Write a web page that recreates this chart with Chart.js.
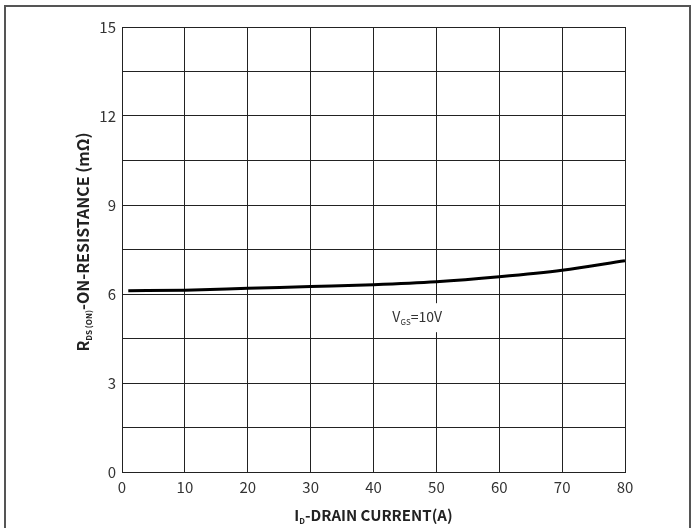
<!DOCTYPE html>
<html>
<head>
<meta charset="utf-8">
<script src="https://cdn.jsdelivr.net/npm/chart.js@4.4.0/dist/chart.umd.min.js"></script>
<style>
  html, body { margin: 0; padding: 0; background: #fff; }
  #wrap { width: 691px; height: 528px; position: relative; }
</style>
</head>
<body>
<div id="wrap"><canvas id="rdsChart" width="691" height="528"></canvas></div>
<script>
// 곡선 데이터
const drainCurrent = [1, 10, 20, 30, 40, 50, 60, 70, 80];
const onResistance = [6.11, 6.13, 6.19, 6.25, 6.31, 6.41, 6.58, 6.80, 7.12];

// 눈금 라벨
const xTickLabels = [0, 10, 20, 30, 40, 50, 60, 70, 80];
const yTickLabels = [0, 3, 6, 9, 12, 15];
const yGridStep = 1.5;

const FONT = '"Noto Sans CJK SC", "Noto Sans", sans-serif';

// 아래첨자 텍스트 그리기
function drawParts(ctx, parts, x, y, align) {
    let total = 0;
    parts.forEach(p => {
        ctx.font = p.font;
        total += ctx.measureText(p.text).width;
    });
    let cx = align === 'center' ? x - total / 2 : x;
    parts.forEach(p => {
        ctx.font = p.font;
        ctx.fillText(p.text, cx, y + (p.dy || 0));
        cx += ctx.measureText(p.text).width;
    });
}

const annotations = {
    id: 'annotations',
    beforeDraw(chart) {
        const ctx = chart.ctx;
        ctx.save();
        ctx.fillStyle = '#fff';
        ctx.fillRect(0, 0, chart.width, chart.height);
        // 바깥 테두리
        ctx.strokeStyle = '#555';
        ctx.lineWidth = 2;
        ctx.beginPath();
        ctx.moveTo(5, 540);
        ctx.lineTo(5, 6);
        ctx.lineTo(690, 6);
        ctx.lineTo(690, 540);
        ctx.stroke();
        ctx.restore();
    },
    afterDatasetsDraw(chart) {
        const ctx = chart.ctx;
        const area = chart.chartArea;
        const xs = chart.scales.x;
        const ys = chart.scales.y;
        ctx.save();
        ctx.fillStyle = '#222';
        ctx.textBaseline = 'alphabetic';
        const bold = 'bold 15px ' + FONT;
        const subBold = 'bold 8px ' + FONT;

        // x축 제목
        drawParts(ctx, [
            { text: 'I', font: bold },
            { text: 'D', font: subBold, dy: 3 },
            { text: '-DRAIN CURRENT(A)', font: bold }
        ], (area.left + area.right) / 2, 521, 'center');

        // y축 제목 (회전)
        const boldY = 'bold 16px ' + FONT;
        ctx.translate(89, 242);
        ctx.rotate(-Math.PI / 2);
        drawParts(ctx, [
            { text: 'R', font: boldY },
            { text: 'DS (ON)', font: subBold, dy: 3 },
            { text: '-ON-RESISTANCE (mΩ)', font: boldY }
        ], 0, 0, 'center');
        ctx.setTransform(1, 0, 0, 1, 0, 0);

        // V_GS 라벨 (흰 배경)
        const lx = xs.getPixelForValue(43);
        const ly = ys.getPixelForValue(5.05);
        ctx.fillStyle = '#fff';
        ctx.fillRect(lx - 8, ly - 19, 62, 29);
        ctx.fillStyle = '#333';
        const norm = '14px ' + FONT;
        drawParts(ctx, [
            { text: 'V', font: norm },
            { text: 'GS', font: '8px ' + FONT, dy: 3 },
            { text: '=10V', font: norm }
        ], lx, ly, 'left');
        ctx.restore();
    }
};

new Chart(document.getElementById('rdsChart'), {
    type: 'line',
    data: {
        datasets: [{
            data: drainCurrent.map((x, i) => ({ x: x, y: onResistance[i] })),
            borderColor: '#000',
            borderWidth: 3,
            pointRadius: 0,
            cubicInterpolationMode: 'monotone',
            fill: false
        }]
    },
    options: {
        responsive: false,
        animation: false,
        devicePixelRatio: 1,
        layout: { padding: { left: 0, top: 27, right: 66, bottom: 0 } },
        plugins: {
            legend: { display: false },
            tooltip: { enabled: false }
        },
        scales: {
            x: {
                type: 'linear',
                min: 0,
                max: 80,
                afterBuildTicks: scale => {
                    scale.ticks = xTickLabels.map(v => ({ value: v }));
                },
                afterFit: scale => { scale.height = 56; },
                grid: { color: '#222', lineWidth: 1, drawTicks: false },
                border: { color: '#222', width: 1 },
                ticks: {
                    color: '#333',
                    padding: 6,
                    font: { family: FONT, size: 15 },
                    maxRotation: 0
                }
            },
            y: {
                type: 'linear',
                min: 0,
                max: 15,
                afterBuildTicks: scale => {
                    const t = [];
                    for (let v = 0; v <= 15; v += yGridStep) t.push({ value: v });
                    scale.ticks = t;
                },
                afterFit: scale => { scale.width = 122; },
                grid: { color: '#222', lineWidth: 1, drawTicks: false },
                border: { color: '#222', width: 1 },
                ticks: {
                    color: '#333',
                    padding: 6,
                    font: { family: FONT, size: 15 },
                    callback: v => yTickLabels.includes(v) ? v : ''
                }
            }
        }
    },
    plugins: [annotations]
});
</script>
</body>
</html>
